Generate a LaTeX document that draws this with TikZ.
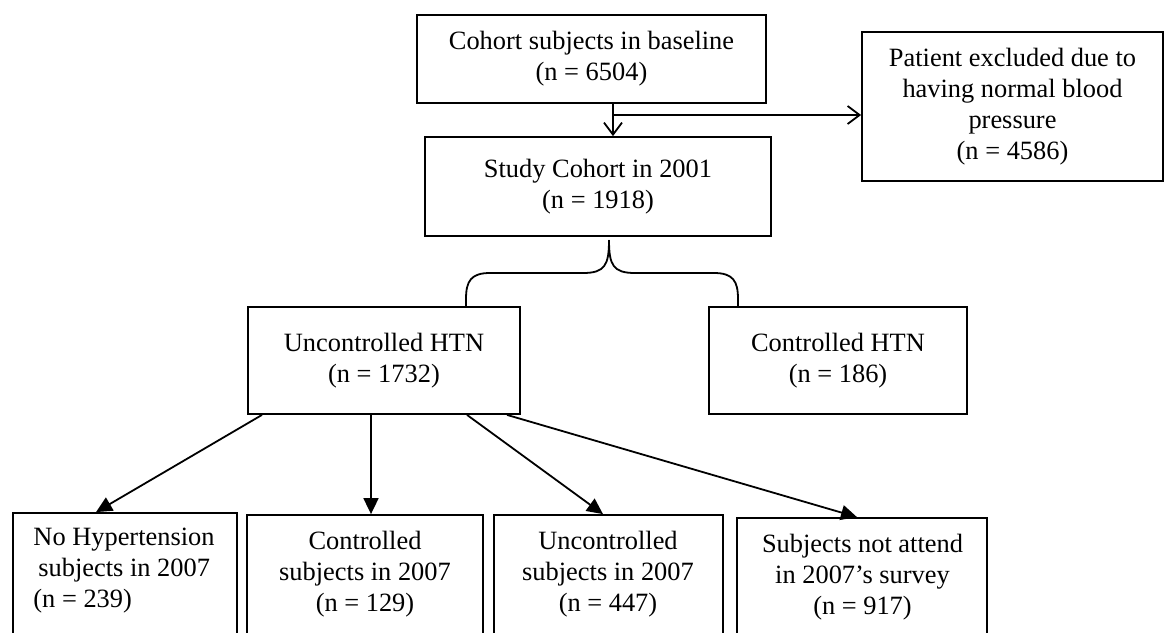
\documentclass[tikz,border=0pt]{standalone}
\usepackage{fontspec}
\setmainfont{Liberation Serif}
\usetikzlibrary{arrows.meta}
\begin{document}
\begin{tikzpicture}[x=0.5pt,y=-0.5pt,
  every node/.style={font=\fontsize{13.2}{15.5}\selectfont},
  box/.style={draw, line width=0.9pt, inner sep=0pt, align=center},
  lbl/.style={inner sep=0pt, align=center, anchor=north},
  conn/.style={line width=0.9pt},
  openarr/.style={conn, -{Straight Barb[length=6pt,width=9pt]}},
  fillarr/.style={conn, -{Triangle[length=8pt,width=7.5pt]}}]
\useasboundingbox (0,0) rectangle (1166,632);
\clip (0,0) rectangle (1166,632);

% top part
\node[box, minimum width=174.5pt, minimum height=44pt] (A) at (591.5,59)
  {Cohort subjects in baseline\\(n = 6504)};
\node[box, minimum width=173pt, minimum height=49.5pt] (B) at (598,186.5)
  {Study Cohort in 2001\\(n = 1918)};
\node[box, minimum width=150.5pt, minimum height=74.5pt] (C) at (1012.5,106.5)
  {Patient excluded due to\\having normal blood\\pressure\\(n = 4586)};
\node[box, minimum width=136pt, minimum height=53.5pt] (D) at (384,360.5)
  {Uncontrolled HTN\\(n = 1732)};
\node[box, minimum width=129pt, minimum height=53.5pt] (K) at (838,360.5)
  {Controlled HTN\\(n = 186)};

% bottom boxes (extend below the picture)
\node[box, minimum width=112pt, minimum height=93.5pt] (E) at (125,606.5) {};
\node[box, minimum width=118pt, minimum height=92.5pt] (F) at (365,607.5) {};
\node[box, minimum width=114.5pt, minimum height=92.5pt] (G) at (608.5,607.5) {};
\node[box, minimum width=125pt, minimum height=91pt] (H) at (862,609) {};

\node[lbl, align=left] (Et) at (124,528)
  {No Hypertension\\\hspace*{2.5pt}subjects in 2007\\(n = 239)};
\node[lbl] (Ft) at (365,531) {Controlled\\subjects in 2007\\(n = 129)};
\node[lbl] (Gt) at (608,531) {Uncontrolled\\subjects in 2007\\(n = 447)};
\node[lbl] (Ht) at (862.5,534) {Subjects not attend\\in 2007’s survey\\(n = 917)};

% helper coordinates
\coordinate (xa) at (613,115);
\coordinate (bt) at (609,240);
\coordinate (bl) at (466,0);
\coordinate (br) at (738,0);
\coordinate (s1) at (262,0);
\coordinate (s2) at (371,0);
\coordinate (s3) at (467,0);
\coordinate (s4) at (507,0);
\coordinate (t1) at (96,0);
\coordinate (t2) at (371,0);
\coordinate (t3) at (603,0);
\coordinate (t4) at (857,0);

% connectors
\draw[openarr] (A.south -| xa) -- (B.north -| xa);
\draw[openarr] (xa) -- (C.west |- xa);

\draw[conn] (bt) .. controls (609,265) and (605,273) .. (583,273) -- (490,273)
  .. controls (471,273) and (466,281) .. (466,299) -- (D.north -| bl);
\draw[conn] (bt) .. controls (609,265) and (613,273) .. (635,273) -- (714,273)
  .. controls (733,273) and (738,281) .. (738,299) -- (K.north -| br);

\draw[fillarr] (D.south -| s1) -- (E.north -| t1);
\draw[fillarr] (D.south -| s2) -- (F.north -| t2);
\draw[fillarr] (D.south -| s3) -- (G.north -| t3);
\draw[fillarr] (D.south -| s4) -- (H.north -| t4);
\end{tikzpicture}
\end{document}
